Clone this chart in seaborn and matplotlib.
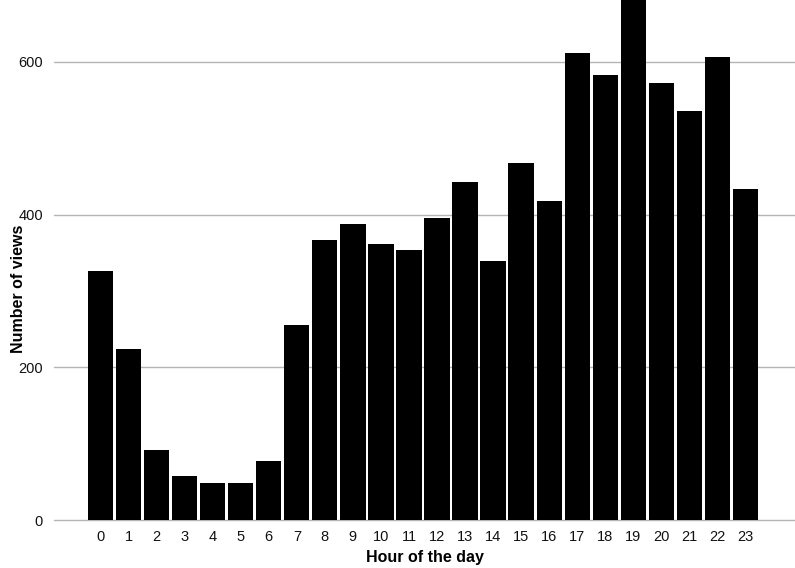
import matplotlib
matplotlib.use("Agg")
import matplotlib.pyplot as plt
import seaborn as sns
import pandas as pd

# hourly view counts
hours = list(range(24))
views = [326, 224, 92, 58, 49, 49, 77, 256, 367, 387, 362, 354,
         396, 442, 339, 468, 418, 611, 583, 690, 572, 536, 606, 434]
y_ticks = [0, 200, 400, 600]

df = pd.DataFrame({"hour": hours, "views": views})

sns.set_style("white")
plt.rcParams['font.family'] = ['Liberation Sans', 'DejaVu Sans']

fig = plt.figure(figsize=(7.95, 5.68), dpi=100)
ax = fig.add_axes([0.068, 0.0845, 0.932, 0.9155])

sns.barplot(data=df, x="hour", y="views", color="black", width=0.9,
            saturation=1, edgecolor="none", ax=ax)

ax.set_xlim(-1.66, 24.77)
ax.set_ylim(0, 681)
ax.set_yticks(y_ticks)
ax.yaxis.grid(True, color="#b4b4b4", linewidth=1)
for gl in ax.get_ygridlines():
    gl.set_clip_on(False)
ax.set_axisbelow(True)
for s in ax.spines.values():
    s.set_visible(False)
ax.tick_params(axis="both", length=0, labelsize=10.5, colors="#111111")
ax.tick_params(axis="x", pad=7)
ax.tick_params(axis="y", pad=8)

ax.set_xlabel("Hour of the day", fontsize=11.5, fontweight="bold", color="black")
ax.set_ylabel("Number of views", fontsize=11.5, fontweight="bold", color="black")
ax.xaxis.set_label_coords(0.5, -0.058)
ax.yaxis.set_label_coords(-0.038, 0.445)

fig.savefig("out.png", dpi=100)
